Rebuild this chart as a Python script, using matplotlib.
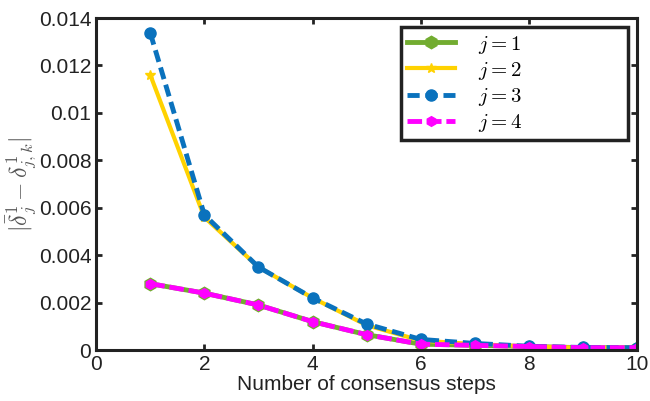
import matplotlib.pyplot as plt
import numpy as np

plt.rcParams['font.family'] = ['Liberation Sans', 'DejaVu Sans']
plt.rcParams['mathtext.fontset'] = 'cm'

steps = [1, 2, 3, 4, 5, 6, 7, 8, 9, 10]
j1 = [0.0028, 0.0024, 0.0019, 0.0012, 0.00065, 0.00025, 0.0002, 0.00015, 0.0001, 0.0001]
j2 = [0.0116, 0.0056, 0.0035, 0.0022, 0.00105, 0.0004, 0.00025, 0.00015, 0.0001, 0.0001]
j3 = [0.01337, 0.0057, 0.0035, 0.0022, 0.0011, 0.00045, 0.00028, 0.00016, 0.00011, 0.0001]
j4 = [0.0028, 0.0024, 0.0019, 0.0012, 0.00065, 0.00025, 0.0002, 0.00015, 0.0001, 0.0001]
pad = ' ' * 18

fig = plt.figure(figsize=(6.5, 4.01), dpi=100)
ax = fig.add_axes([0.148, 0.127, 0.832, 0.828])

ax.plot(steps, j1, color='#72ac30', lw=3.5, marker='h', ms=9, label=r'$j = 1$' + pad)
ax.plot(steps, j2, color='#ffd200', lw=3, marker='*', ms=7, label=r'$j = 2$' + pad)
ax.plot(steps, j3, color='#0a72bd', lw=3.5, ls=(0, (2.5, 1.2)), marker='o', ms=8, label=r'$j = 3$' + pad)
ax.plot(steps, j4, color='#ff00ff', lw=3.5, ls=(0, (3, 1)), marker='h', ms=7, label=r'$j = 4$' + pad)

ax.set_xlim(0, 10)
ax.set_ylim(0, 0.014)
ax.set_xticks([0, 2, 4, 6, 8, 10])
ax.set_yticks([0, 0.002, 0.004, 0.006, 0.008, 0.01, 0.012, 0.014])
ax.set_yticklabels(['0', '0.002', '0.004', '0.006', '0.008', '0.01', '0.012', '0.014'])
ax.tick_params(direction='in', top=True, right=True, labelsize=15, width=2, length=4, colors='#222222')
for s in ax.spines.values():
    s.set_linewidth(2.2)
    s.set_color('#222222')

ax.set_xlabel('Number of consensus steps', fontsize=15, color='#222222', labelpad=1)
ax.set_ylabel(r'$|\bar{\delta}_j^1 - \delta_{j,k}^1|$', fontsize=17, color='#555555', labelpad=0)

leg = ax.legend(loc='upper right', fontsize=15, fancybox=False, framealpha=1,
                edgecolor='#222222', borderpad=0.3, handlelength=2.3, handletextpad=1.1,
                labelspacing=0.2, borderaxespad=0, bbox_to_anchor=(0.983, 0.972))
leg.get_frame().set_linewidth(2.5)

fig.savefig('out.png', dpi=100)
